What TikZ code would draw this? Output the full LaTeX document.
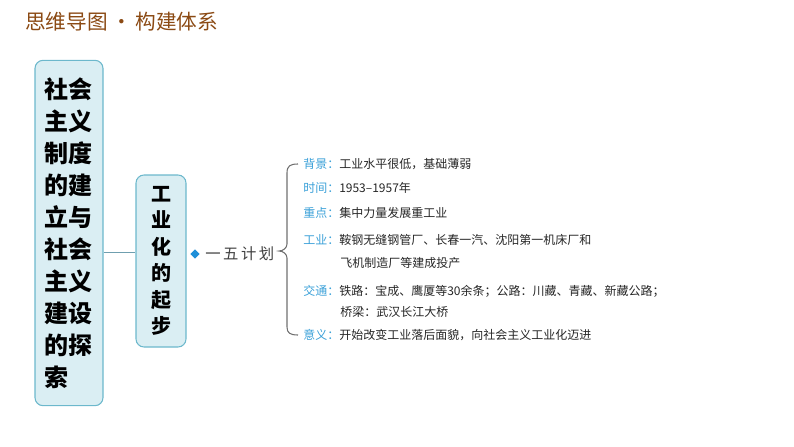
\documentclass[tikz,border=0pt]{standalone}
\usepackage{fontspec}
\usepackage{xcolor}
\usetikzlibrary{shapes.geometric, positioning}
\newfontfamily\cjk{Noto Sans CJK SC}
\definecolor{boxfill}{HTML}{DAEEF3}
\definecolor{boxline}{HTML}{6CB8CC}
\definecolor{titlebrown}{HTML}{8B4A14}
\definecolor{lblue}{HTML}{3AA0D8}
\definecolor{dotblue}{HTML}{1E8FD8}
\definecolor{linkgray}{HTML}{6F9FAF}
\definecolor{bracegray}{HTML}{707070}
\tikzstyle{mainbox} = [rectangle, rounded corners=6pt,
draw=boxline, fill=boxfill, line width=0.8pt,
minimum width = 51pt, minimum height = 259pt,
align=left, inner sep = 0pt]
\tikzstyle{subbox} = [rectangle, rounded corners=6pt,
draw=boxline, fill=boxfill, line width=0.8pt,
minimum width = 37.5pt, minimum height = 129pt,
align=center, inner sep = 0pt]
\tikzstyle{itembox} = [anchor=west, inner sep = 0pt,
font=\cjk\fontsize{9}{10}\selectfont, text=black!85]

\begin{document}
\begin{tikzpicture}[x=0.75pt, y=-0.75pt]
	\useasboundingbox (0,0) rectangle (794,447);
	\node[anchor=west, inner sep=0pt, text=titlebrown,
		font=\cjk\fontsize{15.5}{18}\selectfont] (title) at (25,22) {思维导图\,•\,构建体系};
	\node[mainbox, font=\cjk\bfseries\fontsize{18}{24}\selectfont] (main) at (69,233) {
		社会\\主义\\制度\\的建\\立与\\社会\\主义\\建设\\的探\\索};
	\node[subbox, font=\cjk\bfseries\fontsize{15}{19.9}\selectfont] (sub) at (161,261) {
		工\\业\\化\\的\\起\\步};
	\coordinate (j) at (0,252);
	%% Main to sub
	\draw[linkgray, line width=0.7pt] (main.east |- j) -- (sub.west |- j);
	\node[diamond, fill=dotblue, inner sep=0pt, minimum size=7pt] (dot) at (195,254) {};
	\node[anchor=west, inner sep=0pt, text=black!75,
		font=\cjk\fontsize{11.5}{12}\selectfont] (plan) at (205,254) {一\,五\,计\,划};
	%% Brace
	\coordinate (bt) at (298,164);
	\coordinate (bm) at (279,251);
	\coordinate (bb) at (298,335);
	\draw[bracegray, line width=0.8pt] (bt) .. controls (290,164) and (287,166) .. (287,173)
		-- (287,244) .. controls (287,248) and (283,251) .. (bm)
		.. controls (283,251) and (287,254) .. (287,258)
		-- (287,327) .. controls (287,333) and (290,335) .. (bb);
	%% Items
	\node[itembox] (bg) at (303,164) {\textcolor{lblue}{背景：}工业水平很低，基础薄弱};
	\node[itembox] (time) at (303,188) {\textcolor{lblue}{时间：}1953–1957年};
	\node[itembox] (key) at (303,213) {\textcolor{lblue}{重点：}集中力量发展重工业};
	\node[itembox] (ind) at (303,240) {\textcolor{lblue}{工业：}鞍钢无缝钢管厂、长春一汽、沈阳第一机床厂和};
	\node[itembox] (ind2) at (340,263) {飞机制造厂等建成投产};
	\node[itembox] (traf) at (303,291) {\textcolor{lblue}{交通：}铁路：宝成、鹰厦等30余条；公路：川藏、青藏、新藏公路；};
	\node[itembox] (traf2) at (340,312) {桥梁：武汉长江大桥};
	\node[itembox] (mean) at (303,335) {\textcolor{lblue}{意义：}开始改变工业落后面貌，向社会主义工业化迈进};
\end{tikzpicture}
\end{document}
